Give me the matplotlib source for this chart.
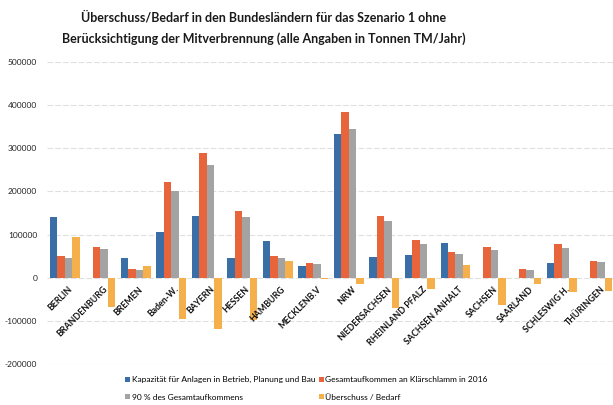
import numpy as np
import matplotlib
matplotlib.use('Agg')
import matplotlib.pyplot as plt

# Bundesländer und Werte (Tonnen TM/Jahr)
laender = ['BERLIN', 'BRANDENBURG', 'BREMEN', 'Baden-W.', 'BAYERN', 'HESSEN',
           'HAMBURG', 'MECKLENB.V', 'NRW', 'NIEDERSACHSEN', 'RHEINLAND PFALZ',
           'SACHSEN ANHALT', 'SACHSEN', 'SAARLAND', 'SCHLESWIG H.', 'THÜRINGEN']
kapazitaet = [141000, 0, 46000, 106000, 143000, 46000, 86000, 28000,
              333000, 49000, 53000, 81000, 0, 0, 35000, 0]
aufkommen = [51000, 72000, 21000, 222000, 289000, 155000, 51000, 35000,
             384000, 143000, 88000, 60000, 72000, 21000, 78000, 39000]
aufkommen_90 = [46000, 67000, 19000, 201000, 262000, 141000, 46000, 32000,
                345000, 131000, 79000, 55000, 65000, 19000, 70000, 36000]
ueberschuss = [95000, -67000, 28000, -95000, -118000, -97000, 40000, -3000,
               -14000, -70000, -25000, 30000, -62000, -15000, -33000, -30000]

serien = [
    ('Kapazität für Anlagen in Betrieb, Planung und Bau', kapazitaet, '#3a6ea6'),
    ('Gesamtaufkommen an Klärschlamm in 2016', aufkommen, '#e8643b'),
    ('90 % des Gesamtaufkommens', aufkommen_90, '#a3a3a3'),
    ('Überschuss / Bedarf', ueberschuss, '#f5b04b'),
]

plt.rcParams['font.family'] = ['Lato', 'DejaVu Sans']

fig = plt.figure(figsize=(6.13, 4.05), dpi=100)
ax = fig.add_axes([47 / 613, 0.101, 1 - 47 / 613, 0.746])

x = np.arange(len(laender))
w = 0.21
handles = []
for k, (name, vals, col) in enumerate(serien):
    b = ax.bar(x + (k - 1.5) * w, vals, width=w * 0.98, color=col, label=name, zorder=3)
    handles.append(b)

ax.set_xlim(-0.5, 15.44)
ax.set_ylim(-200000, 500000)
ax.set_yticks(np.arange(-200000, 500001, 100000))
ax.set_yticklabels([str(v) for v in range(-200000, 500001, 100000)],
                   fontsize=6, color='#222222')
ax.set_xticks([])
ax.tick_params(axis='y', length=0, pad=7)
ax.grid(axis='y', color='#e0e0e0', linewidth=0.8, linestyle=(0, (5, 2)), zorder=0)
for s in ax.spines.values():
    s.set_visible(False)

for i, name in enumerate(laender):
    ax.text(i + 0.08, -16000, name, rotation=45, ha='right', va='top',
            rotation_mode='anchor', fontsize=6.3, fontweight='bold', color='#111111')

fig.text(0.43, 0.957, 'Überschuss/Bedarf in den Bundesländern für das Szenario 1 ohne',
         ha='center', va='center', fontsize=9, fontweight='bold', color='#1a1a1a')
fig.text(0.43, 0.905, 'Berücksichtigung der Mitverbrennung (alle Angaben in Tonnen TM/Jahr)',
         ha='center', va='center', fontsize=9, fontweight='bold', color='#1a1a1a')

order = [0, 2, 1, 3]
fig.legend([handles[i] for i in order], [serien[i][0] for i in order],
           ncol=2, loc='lower center', bbox_to_anchor=(0.5, -0.008), frameon=False,
           fontsize=6, handlelength=0.6, handleheight=0.6, handletextpad=0.2,
           columnspacing=0.4, labelspacing=1.25)

fig.savefig('out.png', dpi=100)
